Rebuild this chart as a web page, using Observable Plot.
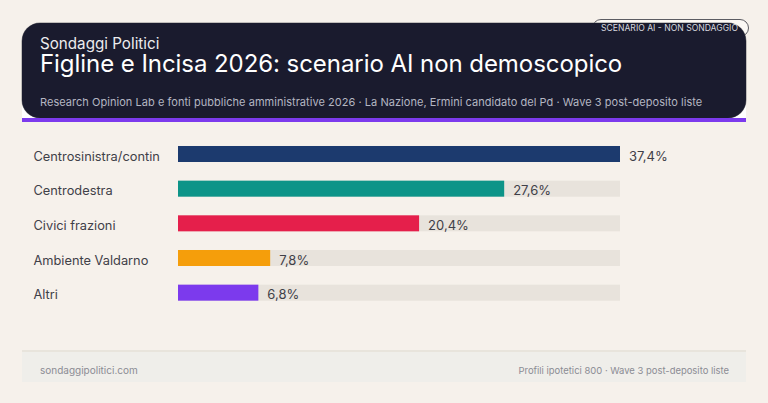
<!DOCTYPE html>
<html lang="it"><head><meta charset="utf-8">
<script src="https://cdn.jsdelivr.net/npm/d3@7"></script>
<script src="https://cdn.jsdelivr.net/npm/@observablehq/plot@0.6"></script>
<style>
html,body{margin:0;padding:0;width:768px;height:403px;overflow:hidden;background:#f6f1eb;font-family:Inter,sans-serif}
.abs{position:absolute;white-space:nowrap}
#hdrback{left:22px;top:100px;width:724px;height:22px;background:#fff}
#badge{left:592px;top:19px;width:157px;height:18px;box-sizing:border-box;border:1px solid #5c5c62;border-radius:9px;background:#fbf8f4}
#hdr{left:22px;top:23px;width:724px;height:95px;background:#1a1b2e;border-radius:18px;box-shadow:0 0 0 .5px #8a8a8a}
#rule{left:22px;top:118px;width:724px;height:4px;background:#7c3aed}
#brand{left:40px;top:37px;font-size:15.2px;line-height:13px;color:#ececee}
#title{left:40px;top:50.5px;font-size:24px;line-height:26px;color:#fff;letter-spacing:-.06px}
#sub{left:40px;top:95px;font-size:11px;line-height:15px;color:#b4b6c2;letter-spacing:.04px}
#badgetxt{left:601px;top:22px;font-size:8.6px;line-height:12px;color:#d6d7de}
#foot{left:22px;top:350px;width:724px;height:32px;background:#efeeea;border-top:2px solid #e8e4dc;box-sizing:border-box}
#footl{left:40px;top:362.5px;font-size:10px;line-height:15px;color:#8b8c94}
#footr{right:39px;top:363px;font-size:9.45px;line-height:15px;color:#8b8c94}
#chart{left:0;top:120px}
svg{display:block;overflow:visible}
</style></head><body>
<div class="abs" id="hdrback"></div>
<div class="abs" id="badge"></div>
<div class="abs" id="hdr"></div>
<div class="abs" id="rule"></div>
<div class="abs" id="brand">Sondaggi Politici</div>
<div class="abs" id="title">Figline e Incisa 2026: scenario AI non demoscopico</div>
<div class="abs" id="sub">Research Opinion Lab e fonti pubbliche amministrative 2026 · La Nazione, Ermini candidato del Pd · Wave 3 post-deposito liste</div>
<div class="abs" id="badgetxt">SCENARIO AI - NON SONDAGGIO</div>
<div class="abs" id="chart"></div>
<div class="abs" id="foot"></div>
<div class="abs" id="footl">sondaggipolitici.com</div>
<div class="abs" id="footr">Profili ipotetici 800 · Wave 3 post-deposito liste</div>
<script>
const categories = ["Centrosinistra/contin","Centrodestra","Civici frazioni","Ambiente Valdarno","Altri"];
const values = [37.4,27.6,20.4,7.8,6.8];
const colors = ["#1c3a6e","#0d9488","#e51f4b","#f59e0b","#7c3aed"];
const trackMax = 37.4;
const rows = categories.map((c,i)=>({c,v:values[i]}));
const fmt = v => v.toFixed(1).replace(".",",")+"%";
const plot = Plot.plot({
  width:768,height:200,marginLeft:178,marginRight:148,marginTop:7.33,marginBottom:0.67,
  style:{background:"transparent",fontFamily:"Inter",overflow:"visible"},
  x:{domain:[0,trackMax],axis:null},
  y:{domain:categories,padding:0.5385,round:false,axis:null},
  color:{domain:categories,range:colors},
  marks:[
    Plot.barX(rows,{x:()=>trackMax,y:"c",fill:"#e8e3dc"}),
    Plot.barX(rows,{x:"v",y:"c",fill:"c"}),
    Plot.axisY({anchor:"left",tickSize:0,tickPadding:0,textAnchor:"start",dx:-145,dy:2,fontSize:12.8,fill:"#3f4048",label:null}),
    Plot.text(rows,{x:"v",y:"c",text:d=>fmt(d.v),textAnchor:"start",dx:8.5,dy:2,fontSize:13,fill:"#3f4048"})
  ]
});
document.getElementById("chart").appendChild(plot);
</script>
</body></html>
